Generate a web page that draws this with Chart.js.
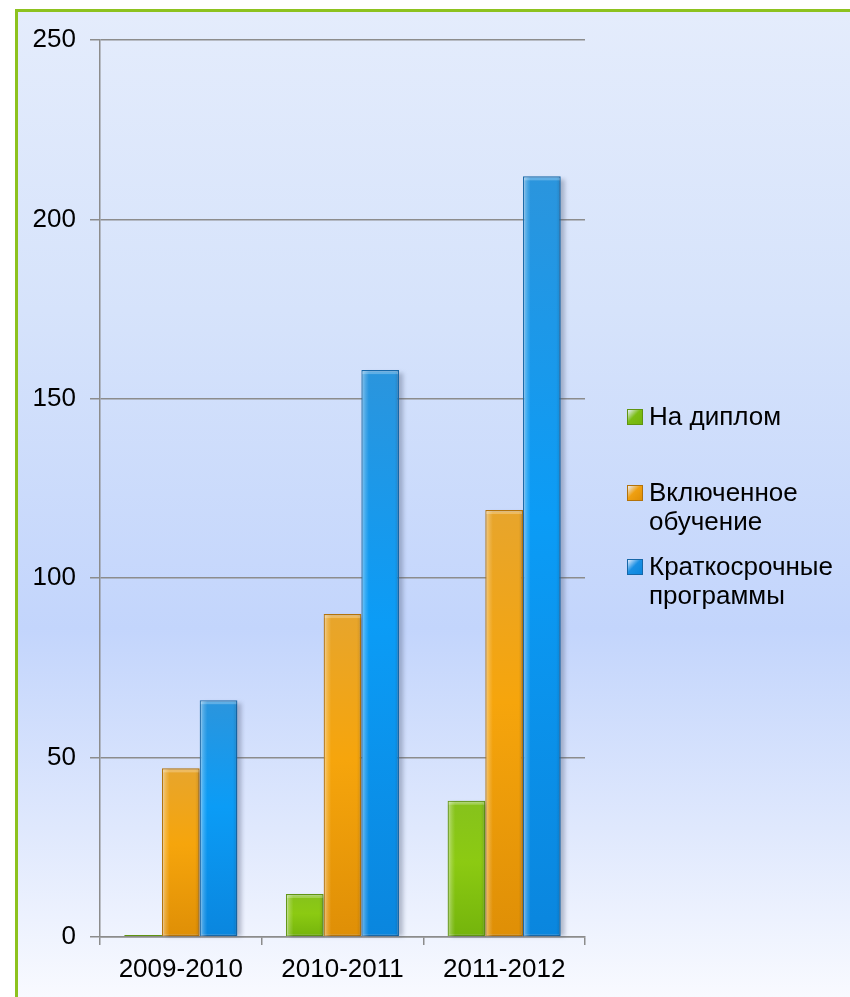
<!DOCTYPE html>
<html>
<head>
<meta charset="utf-8">
<script src="https://cdn.jsdelivr.net/npm/chart.js@4.4.1/dist/chart.umd.min.js"></script>
<style>
  html, body { margin: 0; padding: 0; background: #ffffff; }
  body { width: 850px; height: 997px; position: relative; overflow: hidden; font-family: "Liberation Sans", Arial, sans-serif; }
  #frame { position: absolute; left: 15px; top: 9px; width: 840px; height: 995px;
    border-left: 3px solid #8dc21f; border-top: 3px solid #8dc21f;
    background: linear-gradient(to bottom, #e4ecfc 0%, #d6e3fb 30%, #c3d5fc 62%, #dfe8fd 82%, #fafbff 100%); }
  #wrap { position: absolute; left: 0; top: 0; width: 850px; height: 997px; }
  #legend { position: absolute; left: 627px; top: 0; width: 223px; color: #000; font-size: 26px; line-height: 29px; }
  .item { position: absolute; left: 0; white-space: nowrap; }
  .sw { position: absolute; left: 0; width: 14px; height: 14px; border: 1px solid; }
  .tx { position: absolute; left: 22px; top: 0; }
</style>
</head>
<body>
<div id="frame"></div>
<div id="wrap"><canvas id="c" width="850" height="997"></canvas></div>
<div id="legend"></div>
<script>
const categories = ['2009-2010', '2010-2011', '2011-2012'];
const seriesNames = [['На диплом'], ['Включенное', 'обучение'], ['Краткосрочные', 'программы']];
const diplomaValues = [0, 12, 38];
const includedValues = [47, 90, 119];
const shortValues = [66, 158, 212];
const yTickValues = [0, 50, 100, 150, 200, 250];

const palette = [
  { stops: ['#86c21c', '#8cca12', '#74b40c'], border: '#5f9410', sw: '#7cbd14' },
  { stops: ['#e7a52c', '#f6a50c', '#df8f06'], border: '#b3720a', sw: '#f0a010' },
  { stops: ['#2b95dd', '#0b9cf6', '#0a86de'], border: '#1667a8', sw: '#1a90e4' }
];

function barFill(p) {
  return (ctx) => {
    const chart = ctx.chart;
    if (!chart.chartArea || ctx.type !== 'data') return p.stops[1];
    const ys = chart.scales.y;
    const top = ys.getPixelForValue(ctx.raw);
    const bottom = ys.getPixelForValue(0);
    if (bottom - top < 2) return p.stops[1];
    const g = chart.ctx.createLinearGradient(0, top, 0, bottom);
    g.addColorStop(0, p.stops[0]);
    g.addColorStop(0.45, p.stops[1]);
    g.addColorStop(1, p.stops[2]);
    return g;
  };
}

const valueSets = [diplomaValues, includedValues, shortValues];
const datasets = valueSets.map((vals, i) => ({
  label: seriesNames[i].join(' '),
  data: vals,
  backgroundColor: barFill(palette[i]),
  borderColor: palette[i].border,
  borderWidth: 1.5,
  borderSkipped: false,
  minBarLength: 2,
  barPercentage: 1.0,
  categoryPercentage: 0.7
}));

const barEffects = {
  id: 'barEffects',
  beforeDatasetsDraw(chart) {
    const ctx = chart.ctx;
    ctx.save();
    ctx.filter = 'blur(2px)';
    ctx.fillStyle = 'rgba(70,80,110,0.35)';
    chart.data.datasets.forEach((ds, i) => {
      chart.getDatasetMeta(i).data.forEach(bar => {
        const p = bar.getProps(['x', 'y', 'base', 'width'], true);
        if (p.base - p.y < 3) return;
        ctx.fillRect(p.x - p.width / 2 + 4, p.y + 3, p.width, p.base - p.y - 3);
      });
    });
    ctx.restore();
  },
  afterDatasetsDraw(chart) {
    const ctx = chart.ctx;
    ctx.save();
    chart.data.datasets.forEach((ds, i) => {
      chart.getDatasetMeta(i).data.forEach(bar => {
        const p = bar.getProps(['x', 'y', 'base', 'width'], true);
        const h = p.base - p.y;
        if (h < 6) return;
        const l = p.x - p.width / 2;
        const g = ctx.createLinearGradient(l, 0, l + p.width, 0);
        g.addColorStop(0, 'rgba(255,255,255,0.45)');
        g.addColorStop(0.12, 'rgba(255,255,255,0.15)');
        g.addColorStop(0.2, 'rgba(255,255,255,0)');
        g.addColorStop(0.88, 'rgba(0,0,0,0)');
        g.addColorStop(1, 'rgba(0,0,0,0.12)');
        ctx.fillStyle = g;
        ctx.fillRect(l + 1, p.y + 1, p.width - 2, h - 1);
        ctx.fillStyle = 'rgba(255,255,255,0.25)';
        ctx.fillRect(l + 1, p.y + 1, p.width - 2, 3);
      });
    });
    ctx.restore();
  }
};

Chart.defaults.font.family = '"Liberation Sans", Arial, sans-serif';
Chart.defaults.color = '#000';

const chart = new Chart(document.getElementById('c'), {
  type: 'bar',
  data: { labels: categories, datasets },
  options: {
    responsive: false,
    animation: false,
    layout: { padding: { top: 40, right: 265, left: 0, bottom: 0 } },
    plugins: { legend: { display: false }, tooltip: { enabled: false } },
    scales: {
      x: {
        grid: { display: true, drawOnChartArea: false, drawTicks: true, tickLength: 8, color: '#8c8c8c', lineWidth: 1.5, offset: true },
        border: { display: true, color: '#8c8c8c', width: 1.5 },
        ticks: { font: { size: 26 }, color: '#000', padding: 9, maxRotation: 0 },
        afterFit(scale) { scale.height = 60; }
      },
      y: {
        min: 0, max: 250,
        afterBuildTicks(scale) { scale.ticks = yTickValues.map(v => ({ value: v })); },
        grid: { display: true, drawOnChartArea: true, drawTicks: true, tickLength: 10, color: '#8c8c8c', lineWidth: 1.5 },
        border: { display: true, color: '#8c8c8c', width: 1.5 },
        ticks: { font: { size: 26 }, color: '#000', padding: 14 },
        afterFit(scale) { scale.width = 100; }
      }
    }
  },
  plugins: [barEffects]
});

// HTML legend built from dataset names
const legendTops = [402, 478, 552];
const legend = document.getElementById('legend');
seriesNames.forEach((lines, i) => {
  const item = document.createElement('div');
  item.className = 'item';
  item.style.top = legendTops[i] + 'px';
  const sw = document.createElement('div');
  sw.className = 'sw';
  sw.style.top = '7px';
  sw.style.background = 'linear-gradient(135deg, rgba(255,255,255,0.5), ' + palette[i].sw + ' 45%, ' + palette[i].stops[2] + ')';
  sw.style.borderColor = palette[i].border;
  const tx = document.createElement('div');
  tx.className = 'tx';
  tx.innerHTML = lines.join('<br>');
  item.appendChild(sw);
  item.appendChild(tx);
  legend.appendChild(item);
});
</script>
</body>
</html>
